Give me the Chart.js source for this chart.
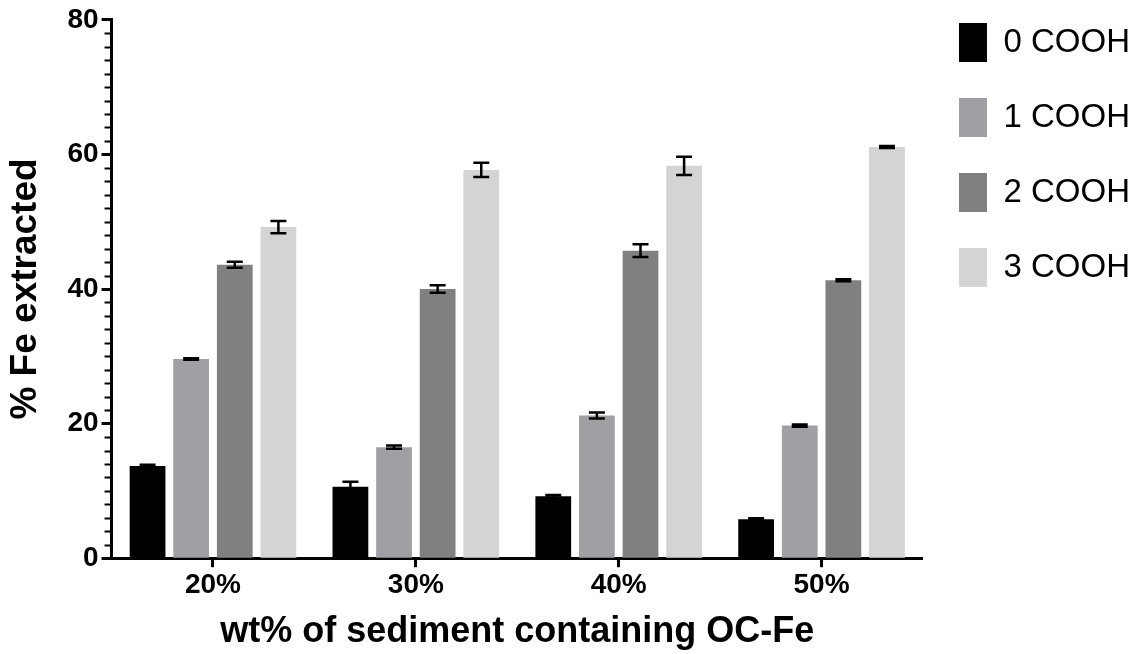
<!DOCTYPE html>
<html>
<head>
<meta charset="utf-8">
<script src="https://cdn.jsdelivr.net/npm/chart.js@4/dist/chart.umd.min.js"></script>
<style>
  html, body { margin: 0; padding: 0; background: #fff; }
  #wrap { width: 1146px; height: 654px; position: relative; }
</style>
</head>
<body>
<div id="wrap"><canvas id="feChart"></canvas></div>
<script>
// categories and series
const categories = ["20%", "30%", "40%", "50%"];
const seriesNames = ["0 COOH", "1 COOH", "2 COOH", "3 COOH"];
const cooh0 = [13.7, 10.6, 9.2, 5.8];
const cooh1 = [29.6, 16.5, 21.2, 19.7];
const cooh2 = [43.6, 40.0, 45.7, 41.3];
const cooh3 = [49.2, 57.7, 58.3, 61.1];
// error bar half-widths (SEM)
const err0 = [0.2, 0.75, 0.2, 0.15];
const err1 = [0.1, 0.25, 0.45, 0.15];
const err2 = [0.45, 0.55, 0.95, 0.15];
const err3 = [0.9, 1.05, 1.35, 0.15];
const yTicks = [0, 20, 40, 60, 80];

const barColors = ["#000000", "#a0a0a4", "#808080", "#d4d4d4"];
const seriesValues = [cooh0, cooh1, cooh2, cooh3];
const seriesErrors = [err0, err1, err2, err3];

Chart.defaults.font.family = "'Liberation Sans', Arial, sans-serif";
Chart.defaults.color = "#000";

// error bars drawn through the y scale
const errorBars = {
  id: "errorBars",
  afterDatasetsDraw(chart) {
    const ctx = chart.ctx;
    const y = chart.scales.y;
    ctx.save();
    ctx.strokeStyle = "#000";
    ctx.lineWidth = 2.5;
    chart.data.datasets.forEach((ds, i) => {
      const meta = chart.getDatasetMeta(i);
      meta.data.forEach((bar, j) => {
        const v = ds.data[j], e = ds.errors[j];
        const yHi = y.getPixelForValue(v + e);
        const yLo = y.getPixelForValue(v - e);
        const half = 8;
        ctx.beginPath();
        ctx.moveTo(bar.x, yHi); ctx.lineTo(bar.x, yLo);
        ctx.moveTo(bar.x - half, yHi); ctx.lineTo(bar.x + half, yHi);
        ctx.moveTo(bar.x - half, yLo); ctx.lineTo(bar.x + half, yLo);
        ctx.stroke();
      });
    });
    ctx.restore();
  }
};

// minor ticks every 2 units on the y axis
const minorTicks = {
  id: "minorTicks",
  afterDraw(chart) {
    const ctx = chart.ctx;
    const y = chart.scales.y;
    const x0 = chart.chartArea.left;
    ctx.save();
    ctx.strokeStyle = "#000";
    ctx.lineWidth = 2;
    for (let v = 2; v < 80; v += 2) {
      if (v % 20 === 0) continue;
      const py = Math.round(y.getPixelForValue(v)) + 0.5;
      ctx.beginPath();
      ctx.moveTo(x0 - 7, py); ctx.lineTo(x0, py);
      ctx.stroke();
    }
    ctx.restore();
  }
};

// pull the legend up level with the top of the axis
const legendShift = {
  id: "legendShift",
  afterLayout(chart) {
    chart.legend.top -= 16;
    chart.legend.bottom -= 16;
  }
};

new Chart("feChart", {
  type: "bar",
  data: {
    labels: categories,
    datasets: seriesNames.map((name, i) => ({
      label: name,
      data: seriesValues[i],
      errors: seriesErrors[i],
      backgroundColor: barColors[i],
      borderWidth: 0,
      categoryPercentage: 0.86,
      barPercentage: 0.82
    }))
  },
  options: {
    responsive: true,
    maintainAspectRatio: false,
    animation: false,
    layout: { padding: { left: 2, top: 3, right: 6, bottom: 0 } },
    plugins: {
      tooltip: { enabled: false },
      legend: {
        position: "right",
        align: "start",
        labels: {
          boxWidth: 28,
          boxHeight: 39,
          padding: 36,
          color: "#000",
          font: { size: 33, weight: "normal" }
        }
      }
    },
    scales: {
      x: {
        offset: true,
        grid: {
          offset: false,
          drawOnChartArea: false,
          color: "#000",
          tickLength: 9,
          tickWidth: 3
        },
        border: { color: "#000", width: 3 },
        ticks: { padding: 1, font: { size: 28, weight: "bold" }, color: "#000" },
        title: {
          display: true,
          text: "wt% of sediment containing OC-Fe",
          font: { size: 36, weight: "bold" },
          color: "#000",
          padding: { top: 8, bottom: 0 }
        }
      },
      y: {
        min: 0,
        max: 80,
        afterBuildTicks(scale) { scale.ticks = yTicks.map(v => ({ value: v })); },
        grid: {
          drawOnChartArea: false,
          color: "#000",
          tickLength: 10,
          tickWidth: 3
        },
        border: { color: "#000", width: 3 },
        ticks: { padding: 3, font: { size: 28, weight: "bold" }, color: "#000" },
        title: {
          display: true,
          text: "% Fe extracted",
          font: { size: 37, weight: "bold" },
          color: "#000",
          padding: { top: 2, bottom: 16 }
        }
      }
    }
  },
  plugins: [errorBars, minorTicks, legendShift]
});
</script>
</body>
</html>
